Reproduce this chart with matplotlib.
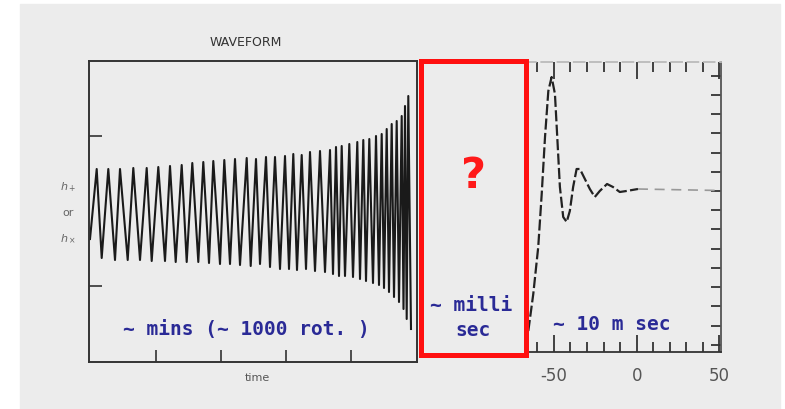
import matplotlib
matplotlib.use("Agg")
import matplotlib.pyplot as plt
from matplotlib.patches import Rectangle

plt.rcParams["axes.unicode_minus"] = False

# inspiral (left panel): extrema, t in px-like units, h centred on 0
peak_t = [8.7, 20.3, 32, 45.3, 58.7, 70.3, 82, 93.7, 104.3, 115.3, 125.3, 136.3, 147,
          158.7, 168, 178, 187, 197, 205.3, 213.7, 222, 232, 242, 248, 253.7, 261.3,
          269.3, 275.3, 281.3, 288, 293.7, 298.7, 303.7, 308.7, 313.7, 317, 320.3]
peak_h = [45, 45, 45, 46, 46, 47, 48, 49, 51, 52, 53, 54, 55, 56, 55, 57, 57, 58, 60,
          59, 62, 63, 64, 67, 68, 70, 72, 74, 75, 78, 80, 85, 90, 93, 98, 108, 118]
trough_t = [2, 13.7, 27, 39.7, 52, 63.7, 77, 87.7, 98.7, 110.3, 121, 132, 142, 152,
            162.7, 172, 182, 192, 201, 209, 218, 227, 237, 245, 251, 257, 265, 272,
            278, 285, 291, 296, 301, 306, 311, 315.5, 318.7, 323]
trough_h = [-25, -44, -46, -46, -46, -47, -47, -48, -48, -48, -49, -50, -50, -51, -52,
            -50, -53, -55, -55, -56, -55, -57, -58, -60, -62, -62, -63, -65, -67, -69,
            -71, -74, -78, -83, -88, -95, -105, -115]
left_ticks_x = [68, 133, 198, 263]
left_ticks_y = [-72, 78]

# ringdown (right panel), time in ms
ring_t = [-65.5, -62.5, -59.5, -57.4, -55.4, -53.4, -51.4, -49.4, -48.0, -46.4, -44.4,
          -42.3, -40.4, -38.4, -36.3, -34.3, -31.3, -28.3, -25.3, -22.3, -17.9, -14.3,
          -10.2, -6.2, 0.8]
ring_h = [-140, -103, -56, -3, 54, 100, 114, 97, 54, 4, -26, -31, -20, 4, 22, 22, 12,
          2, -6, 0, 7, 4, -1, 0, 2]
tail_t = [0.8, 50]
tail_h = [2, 0.5]
right_ticks_y = [-154, -135, -115, -96, -77, -58, -38, -19, 0, 19, 38, 58, 77, 96, 115]

blue = "#2a2a96"
mono = "DejaVu Sans Mono"

fig = plt.figure(figsize=(7.85, 4.10), dpi=100, facecolor="white")
fig.patches.append(Rectangle((20 / 785, 0), 760 / 785, 1 - 5 / 410,
                             transform=fig.transFigure, color="#ececec", zorder=-10))

# ---- left panel
ax = fig.add_axes([89 / 785, 1 - 363 / 410, 328 / 785, 301 / 410])
ax.set_facecolor("none")
pts = sorted(zip(peak_t + trough_t, peak_h + trough_h))
ax.plot([p[0] for p in pts], [p[1] for p in pts], color="#1a1a1a", lw=1.5)
ax.set_xlim(1, 329)
ax.set_ylim(-148, 153)
ax.set_xticks(left_ticks_x)
ax.set_yticks(left_ticks_y)
ax.tick_params(direction="in", length=9, width=1.2, color="#333333",
               labelbottom=False, labelleft=False)
for s in ax.spines.values():
    s.set_color("#333333")
    s.set_linewidth(1.4)

# ---- right panel
ar = fig.add_axes([525 / 785, 1 - 353 / 410, 196 / 785, 290 / 410])
ar.set_facecolor("none")
ar.plot(ring_t, ring_h, color="#222222", lw=1.6, ls=(0, (5, 1.5)))
ar.plot(tail_t, tail_h, color="#999999", lw=1.2, ls=(0, (6, 4)))
ar.set_xlim(-67.5, 51)
ar.set_ylim(-161, 129)
ar.set_xticks([-50, 0, 50])
ar.set_xticks(range(-60, 51, 10), minor=True)
ar.set_yticks(right_ticks_y)
ar.tick_params(axis="x", which="both", direction="in", top=True, color="#333333")
ar.tick_params(axis="x", which="major", length=12, width=1.3, labelsize=12,
               labelcolor="#555555", pad=10)
ar.tick_params(axis="x", which="minor", length=7, width=1.3)
ar.tick_params(axis="y", direction="in", left=False, right=True, labelleft=False,
               length=7, width=1.3, color="#333333")
ar.spines["left"].set_visible(False)
ar.spines["top"].set_color("#bbbbbb")
ar.spines["top"].set_linestyle((0, (6, 3)))
ar.spines["right"].set_color("#555555")
ar.spines["bottom"].set_color("#333333")
for s in ("top", "right", "bottom"):
    ar.spines[s].set_linewidth(1.3)

# ---- red box with question mark
fig.patches.append(Rectangle((420.5 / 785, 1 - 355.5 / 410), 105 / 785, 294 / 410,
                             transform=fig.transFigure, fill=False, ec="#ff1010",
                             lw=3.6, zorder=5))
fig.text(474 / 785, 1 - 176 / 410, "?", color="#ff1a1a", fontsize=31,
         fontweight="bold", ha="center", va="center")

# ---- annotations
fig.text(246 / 785, 1 - 330 / 410, "~ mins (~ 1000 rot. )", color=blue, family=mono,
         fontsize=14, fontweight="bold", ha="center", va="center")
fig.text(471 / 785, 1 - 306 / 410, "~ milli", color=blue, family=mono,
         fontsize=14, fontweight="bold", ha="center", va="center")
fig.text(473 / 785, 1 - 330 / 410, "sec", color=blue, family=mono,
         fontsize=14, fontweight="bold", ha="center", va="center")
fig.text(612 / 785, 1 - 325 / 410, "~ 10 m sec", color=blue, family=mono,
         fontsize=14, fontweight="bold", ha="center", va="center")

# scanned labels
fig.text(246 / 785, 1 - 43 / 410, "WAVEFORM", color="#333333", fontsize=9,
         ha="center", va="center")
fig.text(257 / 785, 1 - 378 / 410, "time", color="#555555", fontsize=8,
         ha="center", va="center")
fig.text(68 / 785, 1 - 187 / 410, r"$h_+$", color="#666666", fontsize=8,
         ha="center", va="center")
fig.text(68 / 785, 1 - 213 / 410, "or", color="#666666", fontsize=8,
         ha="center", va="center")
fig.text(68 / 785, 1 - 239 / 410, r"$h_\times$", color="#666666", fontsize=8,
         ha="center", va="center")

fig.savefig("out.png", dpi=100, facecolor=fig.get_facecolor())
